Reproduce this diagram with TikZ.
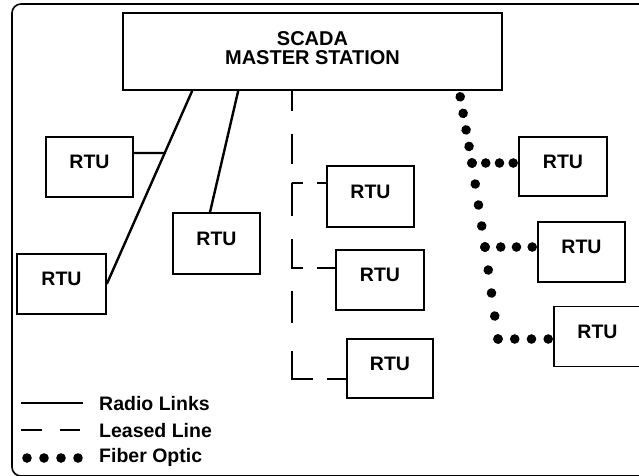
\documentclass[tikz,border=0pt]{standalone}
\usepackage{fontspec}
\setmainfont{Liberation Sans}
\usetikzlibrary{calc,decorations.markings}
\begin{document}
\begin{tikzpicture}[x=1pt,y=-1pt,
  rtu/.style={draw, line width=1.6pt, minimum width=87pt, minimum height=60pt, inner sep=0pt,
    font=\fontsize{19.5}{20}\selectfont\bfseries, text height=14pt, text depth=11pt},
  radio/.style={line width=2.4pt},
  leased/.style={line width=2.4pt},
  fiber/.style={decoration={markings, mark=between positions 0 and 1 step #1 with {\fill (0,0) circle (4.8pt);}}, postaction=decorate},
  legendtext/.style={anchor=base west, inner sep=0pt, font=\fontsize{19.5}{20}\selectfont\bfseries},
  frame/.style={draw, line width=1.6pt, rounded corners=9pt}
]
\useasboundingbox (0,0) rectangle (639,475);
\clip (0,0) rectangle (639,475);

% frame
\draw[frame] (12,4) rectangle (690,476);

% master station
\node[draw, line width=1.6pt, minimum width=379pt, minimum height=77pt] (M) at (312.5,51.5) {};
\node[font=\fontsize{20}{19}\selectfont\bfseries, align=center, inner sep=0pt] (MT) at (312.5,48) {SCADA\\MASTER STATION};

% RTUs
\node[rtu] (R1) at (89.5,167) {RTU};
\node[rtu, minimum height=61pt] (R2) at (216.5,243.5) {RTU};
\node[rtu, minimum width=89pt] (R3) at (61.5,284) {RTU};
\node[rtu, minimum height=61pt] (A) at (370.5,196.5) {RTU};
\node[rtu, minimum width=88pt] (B) at (380,280) {RTU};
\node[rtu, minimum width=86pt, minimum height=59pt] (C) at (390,368.5) {RTU};
\node[rtu, minimum width=88pt, minimum height=59pt] (D) at (563,166.5) {RTU};
\node[rtu] (E) at (581.5,252) {RTU};
\node[rtu] (F) at (597.5,336.5) {RTU};

% radio links
\coordinate (RA) at ($(M.south west)+(70,0)$);
\coordinate (RB) at ($(M.south west)+(116,0)$);
\draw[radio] (RA) -- (R3.east);
\coordinate (R1e) at ($(R1.east)+(0,-14)$);
\coordinate (R1f) at ($(R1e)+(100,0)$);
\draw[radio] (R1e) -- (intersection of R1e--R1f and RA--R3.east);
\draw[radio] (RB) -- ($(R2.north)+(-6.5,0)$);

% leased lines
\coordinate (L0) at ($(M.south west)+(170,0)$);
\draw[leased, dash pattern=on 20pt off 23pt on 30pt off 19pt on 11pt off 14pt on 10pt]
  (L0) |- ($(A.west)+(0,-13.5)$);
\draw[leased, dash pattern=on 20pt off 23pt on 30pt off 20pt on 32pt off 23pt on 40pt off 14pt on 19pt]
  (L0) |- ($(B.west)+(0,-12)$);
\draw[leased, dash pattern=on 20pt off 23pt on 30pt off 20pt on 32pt off 23pt on 30pt off 22pt on 32pt off 28pt on 49pt off 14pt on 20pt]
  (L0) |- ($(C.west)+(0,10.5)$);

% fiber optic
\coordinate (S) at ($(M.south west)+(338,6)$);
\coordinate (J1) at (472,163);
\coordinate (J2) at (485,247);
\coordinate (J3) at (498,339);
\path[fiber=0.24999] (S) -- (J1);
\path[fiber=0.24999] (J1) -- (J2);
\path[fiber=0.24999] (J2) -- (J3);
\path[fiber=0.33333] (J1) -- ($(J1 -| D.west)+(-5,0)$);
\path[fiber=0.33333] (J2) -- ($(J2 -| E.west)+(-5,0)$);
\path[fiber=0.33333] (J3) -- ($(J3 -| F.west)+(-5,0)$);

% legend
\coordinate (LR1) at (21,403);
\coordinate (LR2) at (83,403);
\draw[radio] (LR1) -- (LR2);
\node[legendtext] (LT1) at (99,410) {Radio Links};
\coordinate (LL1) at (21,430);
\coordinate (LL2) at (80,430);
\draw[leased, dash pattern=on 21pt off 18pt on 20pt] (LL1) -- (LL2);
\node[legendtext] (LT2) at (99,437) {Leased Line};
\coordinate (LF1) at (27,458);
\coordinate (LF2) at (78,458);
\path[fiber=0.33333] (LF1) -- (LF2);
\node[legendtext] (LT3) at (99,462) {Fiber Optic};
\end{tikzpicture}
\end{document}
